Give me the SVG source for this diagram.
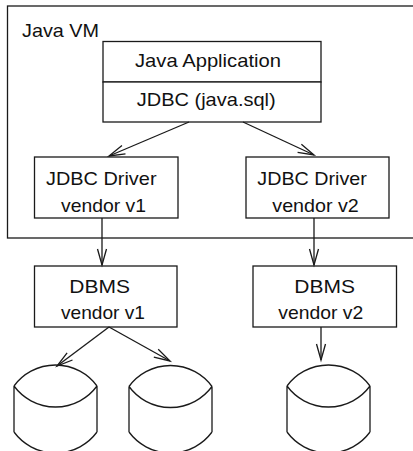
<svg xmlns="http://www.w3.org/2000/svg" width="413" height="451" viewBox="0 0 413 451">
  <style>
    .box { fill: #fff; stroke: #1a1a1a; stroke-width: 1.3; }
    .frame { fill: none; stroke: #1a1a1a; stroke-width: 1.3; }
    .edge { fill: none; stroke: #1a1a1a; stroke-width: 1.3; marker-end: url(#open); }
    .cyl { fill: none; stroke: #1a1a1a; stroke-width: 1.3; }
    text { font-family: "Liberation Sans", Arial, Helvetica, sans-serif; font-size: 18.5px; fill: #111; }
  </style>
  <defs>
    <marker id="open" viewBox="0 0 16 9" refX="16" refY="4.5" markerWidth="16" markerHeight="9" markerUnits="userSpaceOnUse" orient="auto" overflow="visible">
      <path d="M0,0 L16,4.5 L0,9" fill="none" stroke="#1a1a1a" stroke-width="1.3"/>
    </marker>
  </defs>

  <rect width="413" height="451" fill="#fff"/>

  <!-- Java VM container -->
  <g id="java-vm">
    <rect class="frame" x="7.5" y="6" width="420" height="232"/>
    <text x="22" y="36.7" textLength="77" lengthAdjust="spacingAndGlyphs">Java VM</text>
  </g>

  <!-- application + JDBC API -->
  <g id="java-app">
    <rect class="box" x="103" y="41.5" width="218" height="40.5"/>
    <text x="135" y="67.3" textLength="146" lengthAdjust="spacingAndGlyphs">Java Application</text>
  </g>
  <g id="jdbc-api">
    <rect class="box" x="103" y="82" width="218" height="40"/>
    <text x="136.7" y="106" textLength="139" lengthAdjust="spacingAndGlyphs">JDBC (java.sql)</text>
  </g>

  <!-- drivers -->
  <g id="driver-v1">
    <rect class="box" x="34.5" y="157" width="143.5" height="61"/>
    <text x="46" y="185" textLength="110.5" lengthAdjust="spacingAndGlyphs">JDBC Driver</text>
    <text x="61" y="211.7" textLength="85" lengthAdjust="spacingAndGlyphs">vendor v1</text>
  </g>
  <g id="driver-v2">
    <rect class="box" x="246" y="157" width="143" height="61"/>
    <text x="257.3" y="185" textLength="109.5" lengthAdjust="spacingAndGlyphs">JDBC Driver</text>
    <text x="272.3" y="211.7" textLength="86.5" lengthAdjust="spacingAndGlyphs">vendor v2</text>
  </g>

  <!-- database systems -->
  <g id="dbms-v1">
    <rect class="box" x="34.5" y="266" width="142.5" height="61"/>
    <text x="69.3" y="292.7" textLength="60.7" lengthAdjust="spacingAndGlyphs">DBMS</text>
    <text x="61" y="319.3" textLength="84" lengthAdjust="spacingAndGlyphs">vendor v1</text>
  </g>
  <g id="dbms-v2">
    <rect class="box" x="253" y="266" width="143.5" height="61"/>
    <text x="294.3" y="292.7" textLength="60.7" lengthAdjust="spacingAndGlyphs">DBMS</text>
    <text x="278.3" y="319.3" textLength="85" lengthAdjust="spacingAndGlyphs">vendor v2</text>
  </g>

  <!-- storage cylinders -->
  <g id="db-1">
    <path class="cyl" d="M14,386 A51.5,51.5 0 0 1 97,386 M14,386 A51.5,51.5 0 0 0 97,386 M14,386 V432 M97,386 V432 M14,432 A51.5,51.5 0 0 0 97,432"/>
  </g>
  <g id="db-2">
    <path class="cyl" d="M129,386.5 A51.5,51.5 0 0 1 212,386.5 M129,386.5 A51.5,51.5 0 0 0 212,386.5 M129,386.5 V432 M212,386.5 V432 M129,432 A51.5,51.5 0 0 0 212,432"/>
  </g>
  <g id="db-3">
    <path class="cyl" d="M287,386 A51.5,51.5 0 0 1 370,386 M287,386 A51.5,51.5 0 0 0 370,386 M287,386 V432 M370,386 V432 M287,432 A51.5,51.5 0 0 0 370,432"/>
  </g>

  <!-- connectors -->
  <g id="connectors">
    <line class="edge" x1="189" y1="122" x2="109" y2="156"/>
    <line class="edge" x1="243" y1="122" x2="314" y2="155"/>
    <line class="edge" x1="102" y1="218" x2="102" y2="265"/>
    <line class="edge" x1="314" y1="218" x2="314" y2="265"/>
    <line class="edge" x1="109" y1="327" x2="57" y2="366"/>
    <line class="edge" x1="109" y1="327" x2="170" y2="361"/>
    <line class="edge" x1="321" y1="327" x2="321" y2="360"/>
  </g>
</svg>
